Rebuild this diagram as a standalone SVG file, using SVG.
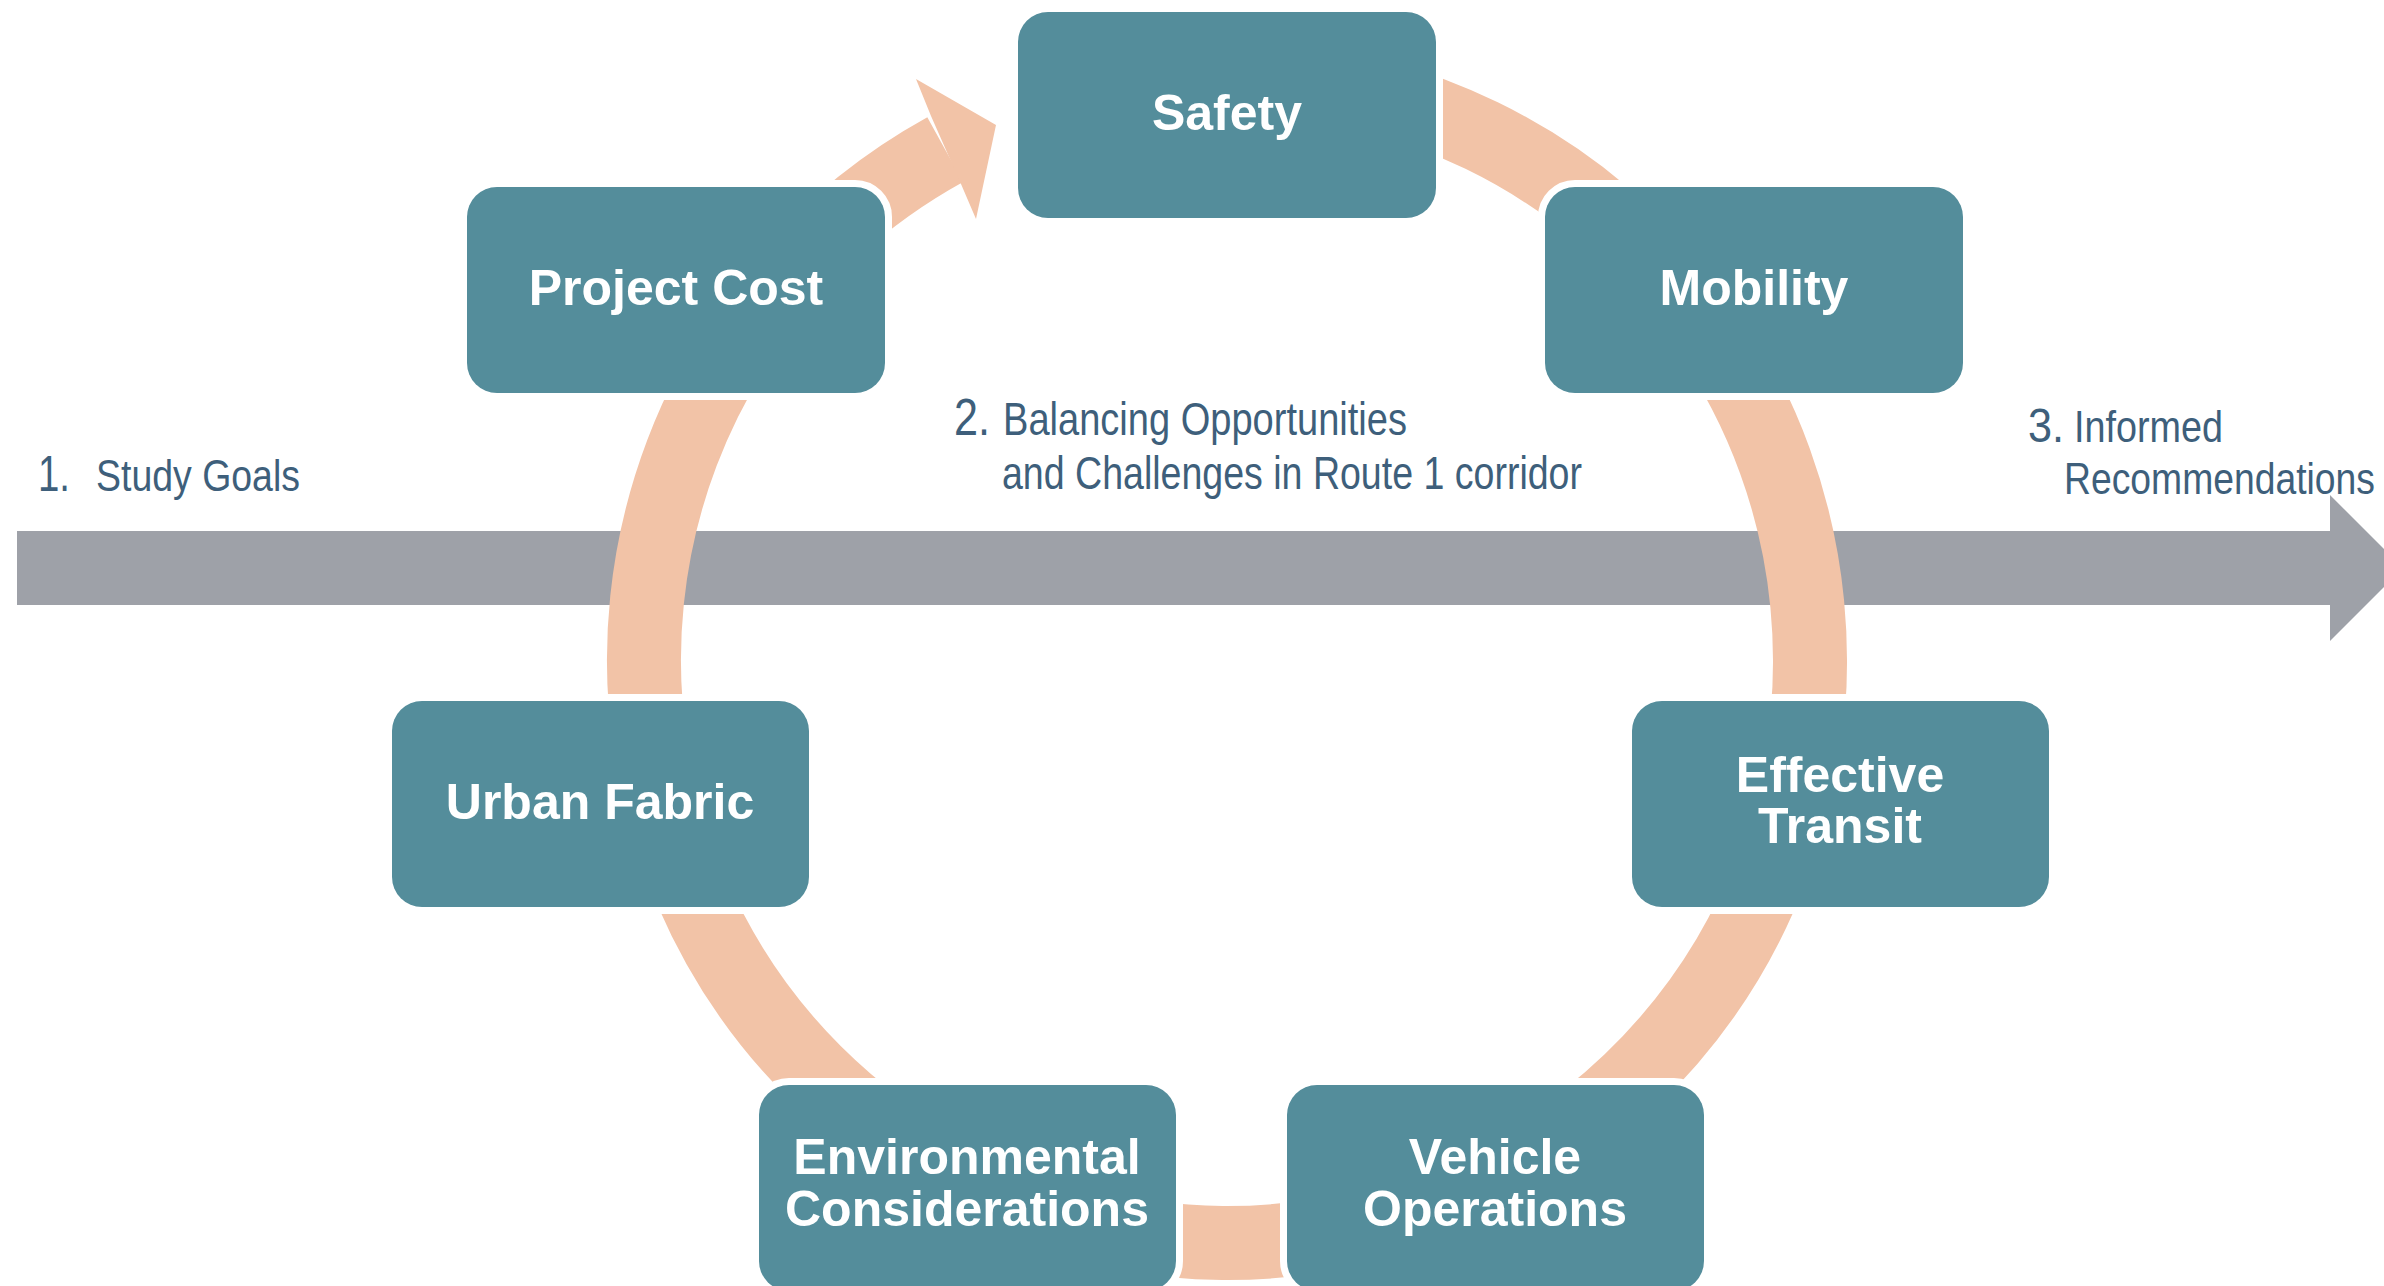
<svg xmlns="http://www.w3.org/2000/svg" width="2384" height="1286" viewBox="0 0 2384 1286">
  <style>
    .box { fill: #548D9B; stroke: #FFFFFF; stroke-width: 14; paint-order: stroke; }
    .lbl { font-family: "Liberation Sans", Arial, sans-serif; font-weight: bold; font-size: 50px; fill: #FFFFFF; text-anchor: middle; }
    .step { font-family: "Liberation Sans", Arial, sans-serif; font-weight: normal; fill: #3E5F7B; }
    .ring { fill: none; stroke: #F2C3A7; stroke-width: 74; }
  </style>
  <rect x="0" y="0" width="2384" height="1286" fill="#FFFFFF"/>

  <g id="timeline">
    <path d="M17,531 H2330 V495 L2403,568 L2330,641 V605 H17 Z" fill="#9EA1A8"/>
  </g>

  <g id="step-labels">
    <text class="step" x="38" y="491" font-size="50" textLength="32" lengthAdjust="spacingAndGlyphs">1.</text>
    <text class="step" x="96" y="491" font-size="45" textLength="204" lengthAdjust="spacingAndGlyphs">Study Goals</text>
    <text class="step" x="954" y="435" font-size="52" textLength="36" lengthAdjust="spacingAndGlyphs">2.</text>
    <text class="step" x="1003" y="435" font-size="47" textLength="404" lengthAdjust="spacingAndGlyphs">Balancing Opportunities</text>
    <text class="step" x="1002" y="489" font-size="47" textLength="580" lengthAdjust="spacingAndGlyphs">and Challenges in Route 1 corridor</text>
    <text class="step" x="2028" y="442" font-size="48" textLength="36" lengthAdjust="spacingAndGlyphs">3.</text>
    <text class="step" x="2074" y="442" font-size="44" textLength="149" lengthAdjust="spacingAndGlyphs">Informed</text>
    <text class="step" x="2064" y="494" font-size="44" textLength="311" lengthAdjust="spacingAndGlyphs">Recommendations</text>
  </g>

  <g id="connectors">
    <path class="ring" d="M1227,77 A583,583 0 1 1 945.2,149.6"/>
    <polygon points="916,79 996,125 976,219 961,184 931,116" fill="#F2C3A7"/>
  </g>

  <g id="node-safety">
    <rect class="box" x="1018" y="12" width="418" height="206" rx="30" ry="30"/>
    <text class="lbl" x="1227" y="130">Safety</text>
  </g>
  <g id="node-mobility">
    <rect class="box" x="1545" y="187" width="418" height="206" rx="30" ry="30"/>
    <text class="lbl" x="1754" y="305">Mobility</text>
  </g>
  <g id="node-effective-transit">
    <rect class="box" x="1632" y="701" width="417" height="206" rx="30" ry="30"/>
    <text class="lbl" x="1840" y="792">Effective</text>
    <text class="lbl" x="1840" y="843">Transit</text>
  </g>
  <g id="node-vehicle-operations">
    <rect class="box" x="1287" y="1085" width="417" height="206" rx="30" ry="30"/>
    <text class="lbl" x="1495" y="1174">Vehicle</text>
    <text class="lbl" x="1495" y="1226">Operations</text>
  </g>
  <g id="node-environmental">
    <rect class="box" x="759" y="1085" width="417" height="206" rx="30" ry="30"/>
    <text class="lbl" x="967" y="1174">Environmental</text>
    <text class="lbl" x="967" y="1226">Considerations</text>
  </g>
  <g id="node-urban-fabric">
    <rect class="box" x="392" y="701" width="417" height="206" rx="30" ry="30"/>
    <text class="lbl" x="600" y="819">Urban Fabric</text>
  </g>
  <g id="node-project-cost">
    <rect class="box" x="467" y="187" width="418" height="206" rx="30" ry="30"/>
    <text class="lbl" x="676" y="305">Project Cost</text>
  </g>
</svg>
